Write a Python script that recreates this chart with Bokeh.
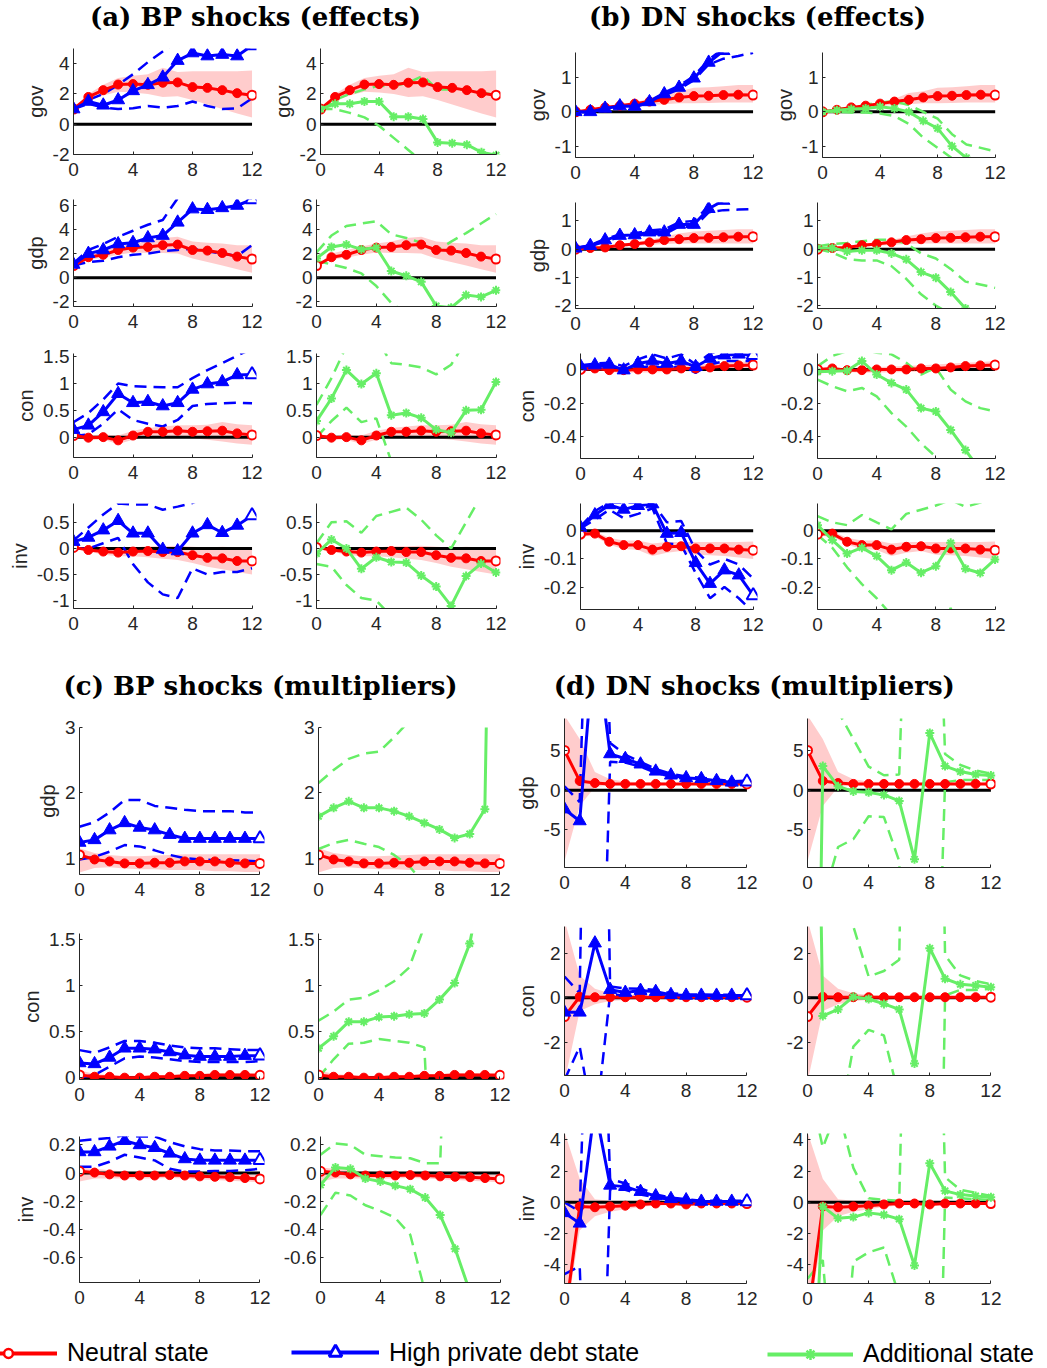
from bokeh.plotting import figure
from bokeh.layouts import row, column
from bokeh.models import Range1d, FixedTicker, CustomJSTickFormatter, Label, Legend, LegendItem
from bokeh.embed import file_html
from bokeh.resources import INLINE

# ------------------------------------------------------------------ data
HORIZON = list(range(13))
X_TICKS = [0, 4, 8, 12]
ZERO = [0.0] * 13

TITLES = ["(a) BP shocks (effects)", "(b) DN shocks (effects)",
          "(c) BP shocks (multipliers)", "(d) DN shocks (multipliers)"]
LEGEND_LABELS = ["Neutral state", "High private debt state", "Additional state"]

# (a) BP shocks (effects)
A_GOV_RED = [1.0, 1.8, 2.25, 2.62, 2.65, 2.6, 2.74, 2.76, 2.45, 2.4, 2.25, 2.05, 1.92]
A_GOV_RED_LO = [1.0, 1.6, 1.9, 2.15, 2.1, 2.0, 1.8, 1.85, 1.6, 1.3, 1.0, 0.7, 0.45]
A_GOV_RED_HI = [1.0, 2.0, 2.6, 3.05, 3.2, 3.3, 3.73, 3.45, 3.5, 3.5, 3.5, 3.5, 3.55]
A_GOV_BLUE = [1.0, 1.5, 1.25, 1.6, 2.2, 2.6, 3.1, 4.2, 4.7, 4.5, 4.6, 4.5, 5.2]
A_GOV_BLUE_LO = [1.0, 1.35, 1.1, 1.0, 1.05, 1.2, 1.1, 1.2, 1.5, 1.2, 1.0, 1.05, 1.7]
A_GOV_BLUE_HI = [1.0, 1.6, 2.0, 2.6, 3.3, 4.1, 4.8, 5.5, 6.0, 6.5, 7.0, 7.5, 8.0]
A_GOV_GREEN = [1.0, 1.35, 1.35, 1.5, 1.5, 0.5, 0.5, 0.35, -1.2, -1.25, -1.35, -1.85, -2.05]
A_GOV_GREEN_LO = [1.0, 1.0, 0.75, 0.45, -0.1, -0.9, -1.7, -2.5, -3.0, -3.5, -4.0, -4.5, -5.0]
A_GOV_GREEN_HI = [1.0, 1.6, 2.0, 2.3, 2.55, 2.5, 2.75, 3.2, 2.3, 2.3, 2.3, 2.1, 1.9]

A_GDP_RED = [1.0, 1.7, 1.9, 2.3, 2.5, 2.55, 2.7, 2.75, 2.3, 2.25, 2.05, 1.75, 1.55]
A_GDP_RED_LO = [1.0, 1.5, 1.65, 1.9, 2.1, 2.05, 2.05, 2.0, 1.6, 1.3, 1.0, 0.7, 0.4]
A_GDP_RED_HI = [1.0, 2.0, 2.3, 2.6, 2.85, 3.0, 3.3, 3.4, 3.0, 2.9, 2.85, 2.7, 2.7]
A_GDP_BLUE = [1.1, 2.0, 2.3, 2.8, 2.9, 3.3, 3.5, 4.6, 5.7, 5.65, 5.8, 6.0, 6.5]
A_GDP_BLUE_LO = [1.0, 1.3, 1.4, 1.7, 1.9, 2.0, 2.2, 2.3, 2.4, 2.2, 2.0, 1.8, 2.7]
A_GDP_BLUE_HI = [1.2, 2.3, 2.8, 3.4, 3.9, 4.4, 4.8, 6.6, 7.5, 8.0, 8.5, 9.0, 9.5]
A_GDP_GREEN = [1.6, 2.55, 2.75, 2.35, 2.5, 0.55, 0.15, -0.35, -2.35, -2.5, -1.45, -1.6, -1.05]
A_GDP_GREEN_LO = [1.4, 1.1, 0.8, 0.35, -0.7, -2.1, -3.0, -3.5, -4.0, -4.5, -5.0, -5.5, -6.0]
A_GDP_GREEN_HI = [2.1, 3.5, 4.3, 4.5, 4.7, 3.6, 3.3, 2.9, 2.2, 3.0, 3.7, 4.5, 5.3]

A_CON_RED = [0.03, -0.01, 0.0, -0.06, 0.03, 0.1, 0.1, 0.12, 0.1, 0.11, 0.12, 0.07, 0.04]
A_CON_RED_LO = [0.0, -0.05, -0.05, -0.13, -0.05, 0.0, -0.01, 0.0, -0.02, -0.05, -0.08, -0.12, -0.14]
A_CON_RED_HI = [0.05, 0.03, 0.05, 0.03, 0.12, 0.17, 0.2, 0.22, 0.22, 0.23, 0.28, 0.24, 0.22]
A_CON_BLUE = [0.14, 0.22, 0.47, 0.81, 0.64, 0.66, 0.58, 0.64, 0.89, 0.99, 1.03, 1.16, 1.17]
A_CON_BLUE_LO = [0.02, 0.05, 0.25, 0.52, 0.32, 0.25, 0.2, 0.32, 0.58, 0.62, 0.63, 0.64, 0.63]
A_CON_BLUE_HI = [0.28, 0.45, 0.7, 1.0, 0.95, 0.94, 0.93, 0.93, 1.1, 1.25, 1.38, 1.52, 1.65]
A_CON_GREEN = [0.3, 0.72, 1.25, 0.99, 1.19, 0.41, 0.45, 0.36, 0.14, 0.08, 0.5, 0.51, 1.03]
A_CON_GREEN_LO = [0.0, 0.3, 0.55, 0.28, 0.35, -0.45, -1.0, -1.2, -1.3, -1.2, -1.0, -0.8, -0.6]
A_CON_GREEN_HI = [0.6, 1.1, 1.7, 2.0, 1.85, 1.38, 1.35, 1.3, 1.17, 1.35, 1.8, 2.0, 2.2]

A_INV_RED = [0.02, -0.03, -0.06, -0.08, -0.06, -0.05, -0.07, -0.07, -0.13, -0.18, -0.19, -0.24, -0.24]
A_INV_RED_LO = [0.02, -0.06, -0.12, -0.15, -0.15, -0.17, -0.2, -0.22, -0.28, -0.35, -0.4, -0.45, -0.5]
A_INV_RED_HI = [0.02, 0.02, 0.0, 0.0, 0.02, 0.04, 0.04, 0.05, 0.03, 0.02, 0.03, 0.02, 0.02]
A_INV_BLUE = [0.13, 0.21, 0.35, 0.53, 0.29, 0.29, -0.02, -0.05, 0.29, 0.45, 0.3, 0.44, 0.63]
A_INV_BLUE_LO = [0.0, 0.0, 0.1, 0.2, -0.3, -0.65, -0.88, -0.95, -0.38, -0.5, -0.45, -0.45, -0.38]
A_INV_BLUE_HI = [0.15, 0.4, 0.65, 0.86, 0.84, 0.84, 0.74, 0.8, 0.87, 1.0, 1.1, 1.2, 1.3]
A_INV_GREEN = [-0.1, 0.17, 0.0, -0.39, -0.17, -0.26, -0.27, -0.52, -0.73, -1.1, -0.53, -0.29, -0.46]
A_INV_GREEN_LO = [-0.3, -0.35, -0.7, -0.95, -1.0, -1.3, -1.5, -1.6, -1.8, -2.0, -2.0, -2.0, -2.0]
A_INV_GREEN_HI = [0.1, 0.5, 0.52, 0.3, 0.62, 0.7, 0.78, 0.55, 0.25, 0.0, 0.5, 1.0, 1.4]

# (b) DN shocks (effects)
B_GOV_RED = [0.0, 0.06, 0.13, 0.18, 0.24, 0.3, 0.35, 0.42, 0.46, 0.47, 0.49, 0.5, 0.49]
B_GOV_RED_LO = [0.0, 0.03, 0.1, 0.14, 0.17, 0.2, 0.22, 0.25, 0.25, 0.26, 0.27, 0.27, 0.27]
B_GOV_RED_HI = [0.0, 0.08, 0.15, 0.22, 0.28, 0.38, 0.55, 0.6, 0.7, 0.72, 0.75, 0.78, 0.78]
B_GOV_BLUE = [0.0, 0.0, 0.1, 0.17, 0.16, 0.29, 0.52, 0.71, 0.98, 1.44, 1.78, 2.1, 2.4]
B_GOV_BLUE_LO = [0.0, -0.02, 0.08, 0.15, 0.14, 0.26, 0.48, 0.66, 0.92, 1.38, 1.55, 1.63, 1.72]
B_GOV_BLUE_HI = [0.0, 0.02, 0.12, 0.19, 0.18, 0.32, 0.56, 0.76, 1.04, 1.52, 1.85, 2.2, 2.5]
B_GOV_GREEN = [0.0, 0.05, 0.08, 0.1, 0.15, 0.1, 0.0, -0.26, -0.48, -1.0, -1.34, -1.8, -2.2]
B_GOV_GREEN_LO = [0.0, 0.0, -0.02, -0.02, -0.05, -0.12, -0.35, -0.75, -1.05, -1.35, -1.7, -2.0, -2.3]
B_GOV_GREEN_HI = [0.0, 0.08, 0.12, 0.2, 0.28, 0.3, 0.2, 0.0, -0.2, -0.65, -0.95, -1.05, -1.15]

B_GDP_RED = [0.0, 0.04, 0.06, 0.14, 0.18, 0.24, 0.32, 0.35, 0.39, 0.4, 0.42, 0.44, 0.44]
B_GDP_RED_LO = [0.0, 0.0, 0.02, 0.08, 0.12, 0.15, 0.18, 0.2, 0.2, 0.2, 0.2, 0.2, 0.2]
B_GDP_RED_HI = [0.0, 0.05, 0.1, 0.18, 0.25, 0.32, 0.45, 0.55, 0.62, 0.65, 0.68, 0.7, 0.7]
B_GDP_BLUE = [0.03, 0.12, 0.32, 0.48, 0.5, 0.6, 0.6, 0.87, 0.87, 1.43, 1.72, 2.0, 2.2]
B_GDP_BLUE_LO = [0.02, 0.1, 0.28, 0.42, 0.45, 0.55, 0.52, 0.8, 0.78, 1.3, 1.38, 1.4, 1.42]
B_GDP_BLUE_HI = [0.04, 0.14, 0.36, 0.52, 0.56, 0.66, 0.7, 0.95, 1.0, 1.52, 1.85, 2.2, 2.5]
B_GDP_GREEN = [0.04, 0.04, -0.08, -0.04, -0.04, -0.15, -0.36, -0.81, -1.01, -1.52, -2.1, -2.5, -2.9]
B_GDP_GREEN_LO = [0.0, -0.12, -0.35, -0.4, -0.4, -0.6, -1.05, -1.6, -2.0, -2.3, -2.6, -3.0, -3.3]
B_GDP_GREEN_HI = [0.1, 0.18, 0.22, 0.28, 0.33, 0.33, 0.2, -0.15, -0.33, -0.7, -1.15, -1.25, -1.37]

B_CON_RED = [0.0, 0.006, -0.004, -0.004, 0.0, 0.0, 0.0, 0.006, 0.006, 0.012, 0.02, 0.024, 0.026]
B_CON_RED_LO = [-0.005, 0.0, -0.015, -0.02, -0.018, -0.018, -0.015, -0.012, -0.01, -0.008, -0.005, 0.0, 0.0]
B_CON_RED_HI = [0.005, 0.01, 0.008, 0.01, 0.015, 0.018, 0.02, 0.025, 0.03, 0.035, 0.04, 0.045, 0.05]
B_CON_BLUE = [0.02, 0.026, 0.03, -0.004, 0.036, 0.05, 0.036, 0.05, 0.016, 0.065, 0.085, 0.09, 0.085]
B_CON_BLUE_LO = [0.015, 0.015, 0.02, -0.01, 0.01, 0.02, 0.005, 0.02, -0.02, 0.03, 0.05, 0.05, 0.05]
B_CON_BLUE_HI = [0.025, 0.035, 0.04, 0.02, 0.06, 0.09, 0.065, 0.09, 0.03, 0.095, 0.12, 0.14, 0.14]
B_CON_GREEN = [-0.014, -0.01, -0.008, 0.05, -0.03, -0.08, -0.12, -0.23, -0.25, -0.36, -0.48, -0.6, -0.7]
B_CON_GREEN_LO = [-0.06, -0.1, -0.13, -0.11, -0.16, -0.26, -0.34, -0.44, -0.52, -0.6, -0.7, -0.8, -0.9]
B_CON_GREEN_HI = [0.02, 0.08, 0.11, 0.12, 0.1, 0.09, 0.04, -0.03, 0.01, -0.12, -0.19, -0.23, -0.25]

B_INV_RED = [-0.012, -0.01, -0.039, -0.051, -0.051, -0.067, -0.057, -0.055, -0.063, -0.063, -0.063, -0.067, -0.069]
B_INV_RED_LO = [-0.018, -0.02, -0.05, -0.065, -0.068, -0.09, -0.078, -0.072, -0.085, -0.087, -0.09, -0.095, -0.1]
B_INV_RED_HI = [-0.005, -0.003, -0.025, -0.035, -0.035, -0.045, -0.04, -0.04, -0.04, -0.04, -0.04, -0.04, -0.038]
B_INV_BLUE = [0.012, 0.056, 0.092, 0.076, 0.089, 0.095, -0.01, -0.007, -0.114, -0.188, -0.14, -0.158, -0.23]
B_INV_BLUE_LO = [0.008, 0.04, 0.075, 0.045, 0.06, 0.08, -0.045, -0.05, -0.15, -0.24, -0.2, -0.24, -0.29]
B_INV_BLUE_HI = [0.015, 0.07, 0.1, 0.1, 0.1, 0.1, 0.03, 0.035, -0.07, -0.12, -0.1, -0.12, -0.17]
B_INV_GREEN = [0.02, -0.033, -0.081, -0.06, -0.09, -0.14, -0.113, -0.149, -0.126, -0.043, -0.135, -0.15, -0.102]
B_INV_GREEN_LO = [-0.015, -0.06, -0.13, -0.19, -0.24, -0.3, -0.35, -0.38, -0.4, -0.275, -0.4, -0.45, -0.45]
B_INV_GREEN_HI = [0.052, 0.03, 0.02, 0.056, 0.03, 0.005, 0.06, 0.075, 0.09, 0.11, 0.085, 0.1, 0.12]

# (c) BP shocks (multipliers)
C_GDP_RED = [1.05, 0.98, 0.95, 0.92, 0.92, 0.93, 0.93, 0.95, 0.95, 0.95, 0.93, 0.92, 0.92]
C_GDP_RED_LO = [0.78, 0.85, 0.86, 0.84, 0.83, 0.83, 0.82, 0.82, 0.82, 0.8, 0.8, 0.79, 0.79]
C_GDP_RED_HI = [1.15, 1.08, 1.05, 1.03, 1.03, 1.04, 1.05, 1.06, 1.06, 1.06, 1.06, 1.06, 1.06]
C_GDP_BLUE = [1.24, 1.28, 1.43, 1.54, 1.47, 1.43, 1.36, 1.3, 1.3, 1.3, 1.3, 1.3, 1.3]
C_GDP_BLUE_LO = [0.98, 1.02, 1.1, 1.2, 1.18, 1.12, 1.05, 1.0, 0.98, 0.97, 0.97, 0.96, 0.95]
C_GDP_BLUE_HI = [1.48, 1.55, 1.7, 1.89, 1.89, 1.8, 1.77, 1.74, 1.72, 1.72, 1.72, 1.7, 1.7]
C_GDP_GREEN = [1.64, 1.77, 1.87, 1.77, 1.77, 1.72, 1.64, 1.54, 1.44, 1.31, 1.37, 1.75, 15.0]
C_GDP_GREEN_LO = [1.14, 1.23, 1.28, 1.22, 1.17, 1.05, 0.88, 0.6, 0.4, 0.2, 0.0, -0.5, -2.0]
C_GDP_GREEN_HI = [2.15, 2.35, 2.52, 2.6, 2.63, 2.85, 3.1, 3.4, 3.8, 4.2, 4.8, 6.0, 20.0]

C_CON_RED = [0.03, 0.01, 0.01, 0.0, 0.0, 0.01, 0.01, 0.02, 0.02, 0.03, 0.03, 0.03, 0.025]
C_CON_RED_LO = [-0.02, -0.01, -0.01, -0.015, -0.015, -0.01, -0.01, 0.0, 0.0, 0.0, 0.0, 0.0, 0.0]
C_CON_RED_HI = [0.08, 0.04, 0.03, 0.02, 0.02, 0.03, 0.03, 0.04, 0.04, 0.05, 0.05, 0.05, 0.05]
C_CON_BLUE = [0.16, 0.15, 0.22, 0.32, 0.32, 0.31, 0.28, 0.245, 0.23, 0.23, 0.23, 0.24, 0.24]
C_CON_BLUE_LO = [0.0, 0.03, 0.12, 0.21, 0.23, 0.22, 0.2, 0.18, 0.17, 0.17, 0.17, 0.17, 0.18]
C_CON_BLUE_HI = [0.3, 0.27, 0.33, 0.4, 0.4, 0.38, 0.35, 0.33, 0.32, 0.32, 0.31, 0.3, 0.3]
C_CON_GREEN = [0.32, 0.45, 0.61, 0.61, 0.66, 0.67, 0.69, 0.7, 0.85, 1.03, 1.46, 2.3, 3.0]
C_CON_GREEN_LO = [0.0, 0.2, 0.37, 0.38, 0.42, 0.4, 0.38, 0.33, -3.0, -3.0, -3.0, -3.0, -3.0]
C_CON_GREEN_HI = [0.62, 0.72, 0.85, 0.87, 0.95, 1.05, 1.2, 1.65, 2.0, 2.5, 3.0, 3.5, 4.0]

C_INV_RED = [0.012, 0.003, -0.01, -0.018, -0.018, -0.018, -0.015, -0.018, -0.024, -0.027, -0.03, -0.036, -0.042]
C_INV_RED_LO = [-0.06, -0.04, -0.04, -0.04, -0.04, -0.04, -0.035, -0.04, -0.045, -0.05, -0.055, -0.06, -0.065]
C_INV_RED_HI = [0.04, 0.03, 0.02, 0.01, 0.005, 0.005, 0.005, 0.0, 0.0, -0.005, -0.01, -0.01, -0.015]
C_INV_BLUE = [0.15, 0.15, 0.19, 0.23, 0.2, 0.18, 0.14, 0.1, 0.09, 0.09, 0.09, 0.09, 0.09]
C_INV_BLUE_LO = [0.045, 0.045, 0.08, 0.13, 0.11, 0.09, 0.03, 0.01, 0.01, 0.015, 0.015, 0.02, 0.03]
C_INV_BLUE_HI = [0.23, 0.24, 0.25, 0.27, 0.26, 0.26, 0.22, 0.19, 0.17, 0.16, 0.16, 0.155, 0.155]
C_INV_GREEN = [-0.085, 0.04, 0.03, -0.04, -0.06, -0.09, -0.115, -0.175, -0.3, -0.54, -0.85, -1.2, -1.6]
C_INV_GREEN_LO = [-0.3, -0.14, -0.16, -0.23, -0.27, -0.32, -0.44, -0.85, -1.2, -1.5, -2.0, -2.5, -3.0]
C_INV_GREEN_HI = [0.13, 0.21, 0.2, 0.13, 0.12, 0.11, 0.105, 0.07, 0.07, 3.0, 3.0, 3.0, 3.0]

# (d) DN shocks (multipliers)
D_GDP_RED = [5.05, 1.18, 0.91, 0.8, 0.8, 0.8, 0.8, 0.8, 0.8, 0.8, 0.8, 0.8, 0.8]
D_GDP_RED_LO = [-9.0, -2.0, 0.4, 0.6, 0.65, 0.65, 0.68, 0.68, 0.68, 0.68, 0.68, 0.68, 0.68]
D_GDP_RED_HI = [9.5, 6.5, 2.3, 1.4, 1.1, 1.0, 1.0, 0.95, 0.95, 0.95, 0.95, 0.95, 0.95]
D_GDP_BLUE = [-2.4, -3.9, 19.7, 4.6, 4.0, 3.3, 2.4, 1.9, 1.56, 1.45, 1.2, 1.0, 1.07]
D_GDP_BLUE_LO = [-15.0, -20.0, -60.0, 3.6, 3.5, 3.0, 2.2, 1.7, 1.4, 1.3, 1.05, 0.9, 0.95]
D_GDP_BLUE_HI = [0.5, -1.5, 60.0, 6.0, 4.5, 3.6, 2.7, 2.1, 1.75, 1.6, 1.35, 1.15, 1.2]
D_GDP_GREEN = [-120.0, 3.06, 0.5, -0.15, -0.27, -0.6, -1.35, -8.76, 7.26, 3.06, 2.37, 2.0, 1.88]
D_GDP_GREEN_LO = [-200.0, -14.0, -7.2, -6.2, -3.3, -3.4, -9.0, -60.0, -60.0, 1.0, 1.3, 1.3, 1.3]
D_GDP_GREEN_HI = [30.0, 30.0, 10.0, 6.5, 3.0, 1.9, 2.0, 60.0, 60.0, 4.6, 3.2, 2.5, 2.1]

D_CON_RED = [-0.85, 0.04, 0.02, 0.02, 0.02, 0.02, 0.02, 0.02, 0.02, 0.02, 0.02, 0.02, 0.02]
D_CON_RED_LO = [-3.8, -0.6, -0.3, -0.15, -0.1, -0.08, -0.06, -0.05, -0.05, -0.05, -0.05, -0.05, -0.05]
D_CON_RED_HI = [3.5, 1.0, 0.4, 0.2, 0.12, 0.1, 0.08, 0.08, 0.08, 0.08, 0.08, 0.08, 0.08]
D_CON_BLUE = [-0.66, -0.66, 2.45, 0.36, 0.23, 0.32, 0.27, 0.13, 0.1, 0.1, 0.1, 0.1, 0.1]
D_CON_BLUE_LO = [-3.7, -2.2, -6.0, 0.15, 0.1, 0.15, 0.15, 0.05, 0.03, 0.03, 0.03, 0.03, 0.03]
D_CON_BLUE_HI = [0.95, 0.2, 40.0, 0.5, 0.42, 0.4, 0.35, 0.2, 0.15, 0.14, 0.13, 0.13, 0.13]
D_CON_GREEN = [40.0, -0.82, -0.53, 0.04, -0.06, -0.28, -0.53, -2.96, 2.22, 0.85, 0.6, 0.55, 0.47]
D_CON_GREEN_LO = [-40.0, -40.0, -6.0, -2.2, -1.45, -1.7, -4.5, -40.0, -40.0, 0.1, 0.35, 0.35, 0.4]
D_CON_GREEN_HI = [40.0, 40.0, 20.0, 3.2, 0.95, 1.2, 1.7, 40.0, 40.0, 1.9, 1.0, 0.75, 0.6]

D_INV_RED = [-7.6, -0.27, -0.32, -0.27, -0.22, -0.14, -0.08, -0.08, -0.14, -0.08, -0.08, -0.08, -0.08]
D_INV_RED_LO = [-8.0, -1.8, -0.9, -0.6, -0.45, -0.3, -0.2, -0.18, -0.2, -0.18, -0.15, -0.15, -0.15]
D_INV_RED_HI = [4.5, 1.5, 0.2, 0.1, 0.05, 0.02, 0.0, 0.0, 0.0, 0.0, 0.0, 0.0, 0.0]
D_INV_BLUE = [-0.68, -1.35, 6.1, 1.08, 1.0, 0.68, 0.4, 0.22, 0.14, 0.05, 0.05, 0.05, 0.05]
D_INV_BLUE_LO = [-4.6, -4.1, -30.0, 0.8, 0.8, 0.5, 0.3, 0.15, 0.08, 0.0, 0.0, 0.0, 0.0]
D_INV_BLUE_HI = [0.0, -0.6, 30.0, 1.5, 1.2, 0.9, 0.5, 0.3, 0.2, 0.1, 0.1, 0.1, 0.1]
D_INV_GREEN = [-20.0, -0.27, -1.03, -0.95, -0.68, -0.8, -1.08, -4.05, 2.49, 0.73, 0.49, 0.4, 0.32]
D_INV_GREEN_LO = [-4.9, -3.7, -15.0, -3.8, -3.2, -2.9, -6.0, -40.0, -40.0, 0.3, 0.25, 0.2, 0.15]
D_INV_GREEN_HI = [8.0, 3.5, 6.0, 2.2, 0.25, 0.15, 0.1, 40.0, 40.0, 1.6, 0.8, 0.6, 0.4]

# axis limits and ticks per row
A_YLIM = {"gov": (-2.0, 5.0), "gdp": (-2.4, 6.5), "con": (-0.38, 1.56), "inv": (-1.15, 0.86)}
A_YTICKS = {"gov": [-2, 0, 2, 4], "gdp": [-2, 0, 2, 4, 6], "con": [0, 0.5, 1, 1.5], "inv": [-1, -0.5, 0, 0.5]}
B_YLIM = {"gov": (-1.33, 1.73), "gdp": (-2.1, 1.65), "con": (-0.53, 0.095), "inv": (-0.28, 0.097)}
B_YTICKS = {"gov": [-1, 0, 1], "gdp": [-2, -1, 0, 1], "con": [-0.4, -0.2, 0], "inv": [-0.2, -0.1, 0]}
C_YLIM = {"gdp": (0.75, 3.0), "con": (-0.02, 1.57), "inv": (-0.78, 0.26)}
C_YTICKS = {"gdp": [1, 2, 3], "con": [0, 0.5, 1, 1.5], "inv": [-0.6, -0.4, -0.2, 0, 0.2]}
D_YLIM = {"gdp": (-9.8, 9.1), "con": (-3.5, 3.2), "inv": (-5.2, 4.4)}
D_YTICKS = {"gdp": [-5, 0, 5], "con": [-2, 0, 2], "inv": [-4, -2, 0, 2, 4]}

# ------------------------------------------------------------------ style
RED = "#FF0000"
BLUE = "#0000FF"
GREEN = "#66EE66"
AXC = "#262626"
XMAX = 12.3
FONT = "Liberation Sans"
NAN = float("nan")


def style_axis(ax):
    ax.axis_line_color = AXC
    ax.axis_line_width = 1
    ax.major_tick_line_color = AXC
    ax.major_tick_in = 3
    ax.major_tick_out = 0
    ax.minor_tick_line_color = None
    ax.major_label_text_font = FONT
    ax.major_label_text_font_size = "19px"
    ax.major_label_text_color = AXC
    ax.axis_label_text_font = FONT
    ax.axis_label_text_font_size = "20px"
    ax.axis_label_text_font_style = "normal"
    ax.axis_label_text_color = AXC
    ax.formatter = CustomJSTickFormatter(code="return String(tick);")


def make_sub(fig_w, fig_h, left, top, frame_h, w12, ylim, yticks, ylabel,
             red, red_lo, red_hi, alt, alt_lo, alt_hi, kind):
    fw = w12 * XMAX / 12.0
    right = int(round(fig_w - left - fw))
    bottom = int(fig_h - top - frame_h)
    p = figure(width=fig_w, height=fig_h, x_range=Range1d(0, XMAX), y_range=Range1d(*ylim),
               output_backend="svg", toolbar_location=None, title=None,
               min_border_left=left, min_border_right=right,
               min_border_top=top, min_border_bottom=bottom)
    p.outline_line_color = None
    p.grid.visible = False
    p.background_fill_color = "white"
    style_axis(p.xaxis[0])
    style_axis(p.yaxis[0])
    p.xaxis[0].ticker = FixedTicker(ticks=X_TICKS)
    p.xaxis[0].bounds = (0, 12)
    p.xaxis[0].major_label_standoff = 8
    p.yaxis[0].ticker = FixedTicker(ticks=yticks)
    p.yaxis[0].major_label_standoff = 4
    p.yaxis[0].axis_label_standoff = 3
    if ylabel:
        p.yaxis[0].axis_label = ylabel

    # neutral-state band and zero line
    p.varea(x=HORIZON, y1=red_lo, y2=red_hi, fill_color=RED, fill_alpha=0.2)
    p.line(HORIZON, ZERO, line_color="black", line_width=3)

    color = BLUE if kind == "blue" else GREEN
    p.line(HORIZON, alt_lo, line_color=color, line_width=2.5, line_dash="12 7")
    p.line(HORIZON, alt_hi, line_color=color, line_width=2.5, line_dash="12 7")

    # neutral state
    p.line(HORIZON, red, line_color=RED, line_width=3)
    p.scatter(HORIZON[1:-1], red[1:-1], marker="circle", size=9, fill_color=RED, line_color=RED)
    p.scatter([HORIZON[0], HORIZON[-1]], [red[0], red[-1]], marker="circle", size=9,
              fill_color="white", line_color=RED, line_width=2)

    # alternative state
    p.line(HORIZON, alt, line_color=color, line_width=3)
    if kind == "blue":
        p.scatter(HORIZON[:-1], alt[:-1], marker="triangle", size=13, fill_color=BLUE, line_color=BLUE)
        p.scatter([HORIZON[-1]], [alt[-1]], marker="triangle", size=13, fill_color="white",
                  line_color=BLUE, line_width=2)
    else:
        p.scatter(HORIZON, alt, marker="asterisk", size=9, line_color=GREEN, line_width=2)
    return p


def title_fig(w, h, text, xf, yf):
    p = figure(width=w, height=h, x_range=Range1d(0, 1), y_range=Range1d(0, 1),
               output_backend="svg", toolbar_location=None, title=None,
               x_axis_location=None, y_axis_location=None, min_border=0)
    p.outline_line_color = None
    p.grid.visible = False
    p.add_layout(Label(x=xf, y=yf, text=text, text_align="center", text_baseline="middle",
                       text_font="DejaVu Serif", text_font_style="bold",
                       text_font_size="26px", text_color="black"))
    return p


SERIES = {
    "A": {"gov": (A_GOV_RED, A_GOV_RED_LO, A_GOV_RED_HI, A_GOV_BLUE, A_GOV_BLUE_LO, A_GOV_BLUE_HI, A_GOV_GREEN, A_GOV_GREEN_LO, A_GOV_GREEN_HI),
          "gdp": (A_GDP_RED, A_GDP_RED_LO, A_GDP_RED_HI, A_GDP_BLUE, A_GDP_BLUE_LO, A_GDP_BLUE_HI, A_GDP_GREEN, A_GDP_GREEN_LO, A_GDP_GREEN_HI),
          "con": (A_CON_RED, A_CON_RED_LO, A_CON_RED_HI, A_CON_BLUE, A_CON_BLUE_LO, A_CON_BLUE_HI, A_CON_GREEN, A_CON_GREEN_LO, A_CON_GREEN_HI),
          "inv": (A_INV_RED, A_INV_RED_LO, A_INV_RED_HI, A_INV_BLUE, A_INV_BLUE_LO, A_INV_BLUE_HI, A_INV_GREEN, A_INV_GREEN_LO, A_INV_GREEN_HI)},
    "B": {"gov": (B_GOV_RED, B_GOV_RED_LO, B_GOV_RED_HI, B_GOV_BLUE, B_GOV_BLUE_LO, B_GOV_BLUE_HI, B_GOV_GREEN, B_GOV_GREEN_LO, B_GOV_GREEN_HI),
          "gdp": (B_GDP_RED, B_GDP_RED_LO, B_GDP_RED_HI, B_GDP_BLUE, B_GDP_BLUE_LO, B_GDP_BLUE_HI, B_GDP_GREEN, B_GDP_GREEN_LO, B_GDP_GREEN_HI),
          "con": (B_CON_RED, B_CON_RED_LO, B_CON_RED_HI, B_CON_BLUE, B_CON_BLUE_LO, B_CON_BLUE_HI, B_CON_GREEN, B_CON_GREEN_LO, B_CON_GREEN_HI),
          "inv": (B_INV_RED, B_INV_RED_LO, B_INV_RED_HI, B_INV_BLUE, B_INV_BLUE_LO, B_INV_BLUE_HI, B_INV_GREEN, B_INV_GREEN_LO, B_INV_GREEN_HI)},
    "C": {"gdp": (C_GDP_RED, C_GDP_RED_LO, C_GDP_RED_HI, C_GDP_BLUE, C_GDP_BLUE_LO, C_GDP_BLUE_HI, C_GDP_GREEN, C_GDP_GREEN_LO, C_GDP_GREEN_HI),
          "con": (C_CON_RED, C_CON_RED_LO, C_CON_RED_HI, C_CON_BLUE, C_CON_BLUE_LO, C_CON_BLUE_HI, C_CON_GREEN, C_CON_GREEN_LO, C_CON_GREEN_HI),
          "inv": (C_INV_RED, C_INV_RED_LO, C_INV_RED_HI, C_INV_BLUE, C_INV_BLUE_LO, C_INV_BLUE_HI, C_INV_GREEN, C_INV_GREEN_LO, C_INV_GREEN_HI)},
    "D": {"gdp": (D_GDP_RED, D_GDP_RED_LO, D_GDP_RED_HI, D_GDP_BLUE, D_GDP_BLUE_LO, D_GDP_BLUE_HI, D_GDP_GREEN, D_GDP_GREEN_LO, D_GDP_GREEN_HI),
          "con": (D_CON_RED, D_CON_RED_LO, D_CON_RED_HI, D_CON_BLUE, D_CON_BLUE_LO, D_CON_BLUE_HI, D_CON_GREEN, D_CON_GREEN_LO, D_CON_GREEN_HI),
          "inv": (D_INV_RED, D_INV_RED_LO, D_INV_RED_HI, D_INV_BLUE, D_INV_BLUE_LO, D_INV_BLUE_HI, D_INV_GREEN, D_INV_GREEN_LO, D_INV_GREEN_HI)},
}

# layout geometry (pixels)
PANEL_GEOM = {
    # cols: (fig_w, left_border, px_per_12); rows: (fig_h, top_border, frame_h)
    "A": {"cols": [(268, 73, 179), (244, 48, 180)],
          "rows": [(151, 8, 106), (152, 8, 107), (152, 10, 104), (150, 8, 105)],
          "vars": ["gov", "gdp", "con", "inv"], "lim": A_YLIM, "ticks": A_YTICKS,
          "label2": ["gov"], "title": (40, 0.498, 0.58)},
    "B": {"cols": [(258, 63, 178), (277, 47, 178)],
          "rows": [(151, 12, 105), (152, 11, 106), (152, 10, 105), (150, 8, 106)],
          "vars": ["gov", "gdp", "con", "inv"], "lim": B_YLIM, "ticks": B_YTICKS,
          "label2": ["gov"], "title": (40, 0.458, 0.58)},
    "C": {"cols": [(280, 79, 180), (232, 38, 181)],
          "rows": [(205, 22, 147), (203, 23, 146), (205, 23, 146)],
          "vars": ["gdp", "con", "inv"], "lim": C_YLIM, "ticks": C_YTICKS,
          "label2": [], "title": (60, 0.508, 0.32)},
    "D": {"cols": [(268, 50, 184), (267, 27, 183)],
          "rows": [(205, 13, 149), (203, 16, 149), (205, 20, 150)],
          "vars": ["gdp", "con", "inv"], "lim": D_YLIM, "ticks": D_YTICKS,
          "label2": [], "title": (60, 0.452, 0.32)},
}


def build_panel(key, title):
    g = PANEL_GEOM[key]
    total_w = g["cols"][0][0] + g["cols"][1][0]
    th, tx, ty = g["title"]
    children = [title_fig(total_w, th, title, tx, ty)]
    for var, (fh, top, frame_h) in zip(g["vars"], g["rows"]):
        s = SERIES[key][var]
        figs = []
        for ci, (fw, left, w12) in enumerate(g["cols"]):
            if ci == 0:
                alt, lo, hi, kind, lab = s[3], s[4], s[5], "blue", var
            else:
                alt, lo, hi, kind = s[6], s[7], s[8], "green"
                lab = var if var in g["label2"] else None
            figs.append(make_sub(fw, fh, left, top, frame_h, w12, g["lim"][var], g["ticks"][var], lab,
                                 s[0], s[1], s[2], alt, lo, hi, kind))
        children.append(row(*figs))
    return column(*children)


panel_a = build_panel("A", TITLES[0])
panel_b = build_panel("B", TITLES[1])
panel_c = build_panel("C", TITLES[2])
panel_d = build_panel("D", TITLES[3])

# legend strip (renderers hold a single NaN point so that legend glyphs are drawn)
lg = figure(width=1047, height=50, x_range=Range1d(0, 1), y_range=Range1d(0, 1),
            output_backend="svg", toolbar_location=None, title=None,
            x_axis_location=None, y_axis_location=None, min_border=0)
lg.outline_line_color = None
lg.grid.visible = False
r1 = [lg.line([NAN], [NAN], line_color=RED, line_width=4),
      lg.scatter([NAN], [NAN], marker="circle", size=8, fill_color="white", line_color=RED, line_width=2.5)]
r2 = [lg.line([NAN], [NAN], line_color=BLUE, line_width=4),
      lg.scatter([NAN], [NAN], marker="triangle", size=13, fill_color="white", line_color=BLUE, line_width=3)]
r3 = [lg.line([NAN], [NAN], line_color=GREEN, line_width=4),
      lg.scatter([NAN], [NAN], marker="asterisk", size=9, line_color=GREEN, line_width=2.5)]
for rends, lab, loc, gw, gh in [(r1, LEGEND_LABELS[0], (-41, 1), 98, 22),
                                (r2, LEGEND_LABELS[1], (291, 0), 88, 32),
                                (r3, LEGEND_LABELS[2], (767, 0), 86, 28)]:
    leg = Legend(items=[LegendItem(label=lab, renderers=rends)], location=loc,
                 glyph_width=gw, glyph_height=gh, label_standoff=10, padding=0, margin=0,
                 spacing=0, border_line_color=None, background_fill_alpha=0,
                 label_text_font=FONT, label_text_font_size="25px", label_text_color="black")
    lg.add_layout(leg)

layout = column(row(panel_a, panel_b), row(panel_c, panel_d), lg)

open("out.html", "w").write(file_html(layout, INLINE))
